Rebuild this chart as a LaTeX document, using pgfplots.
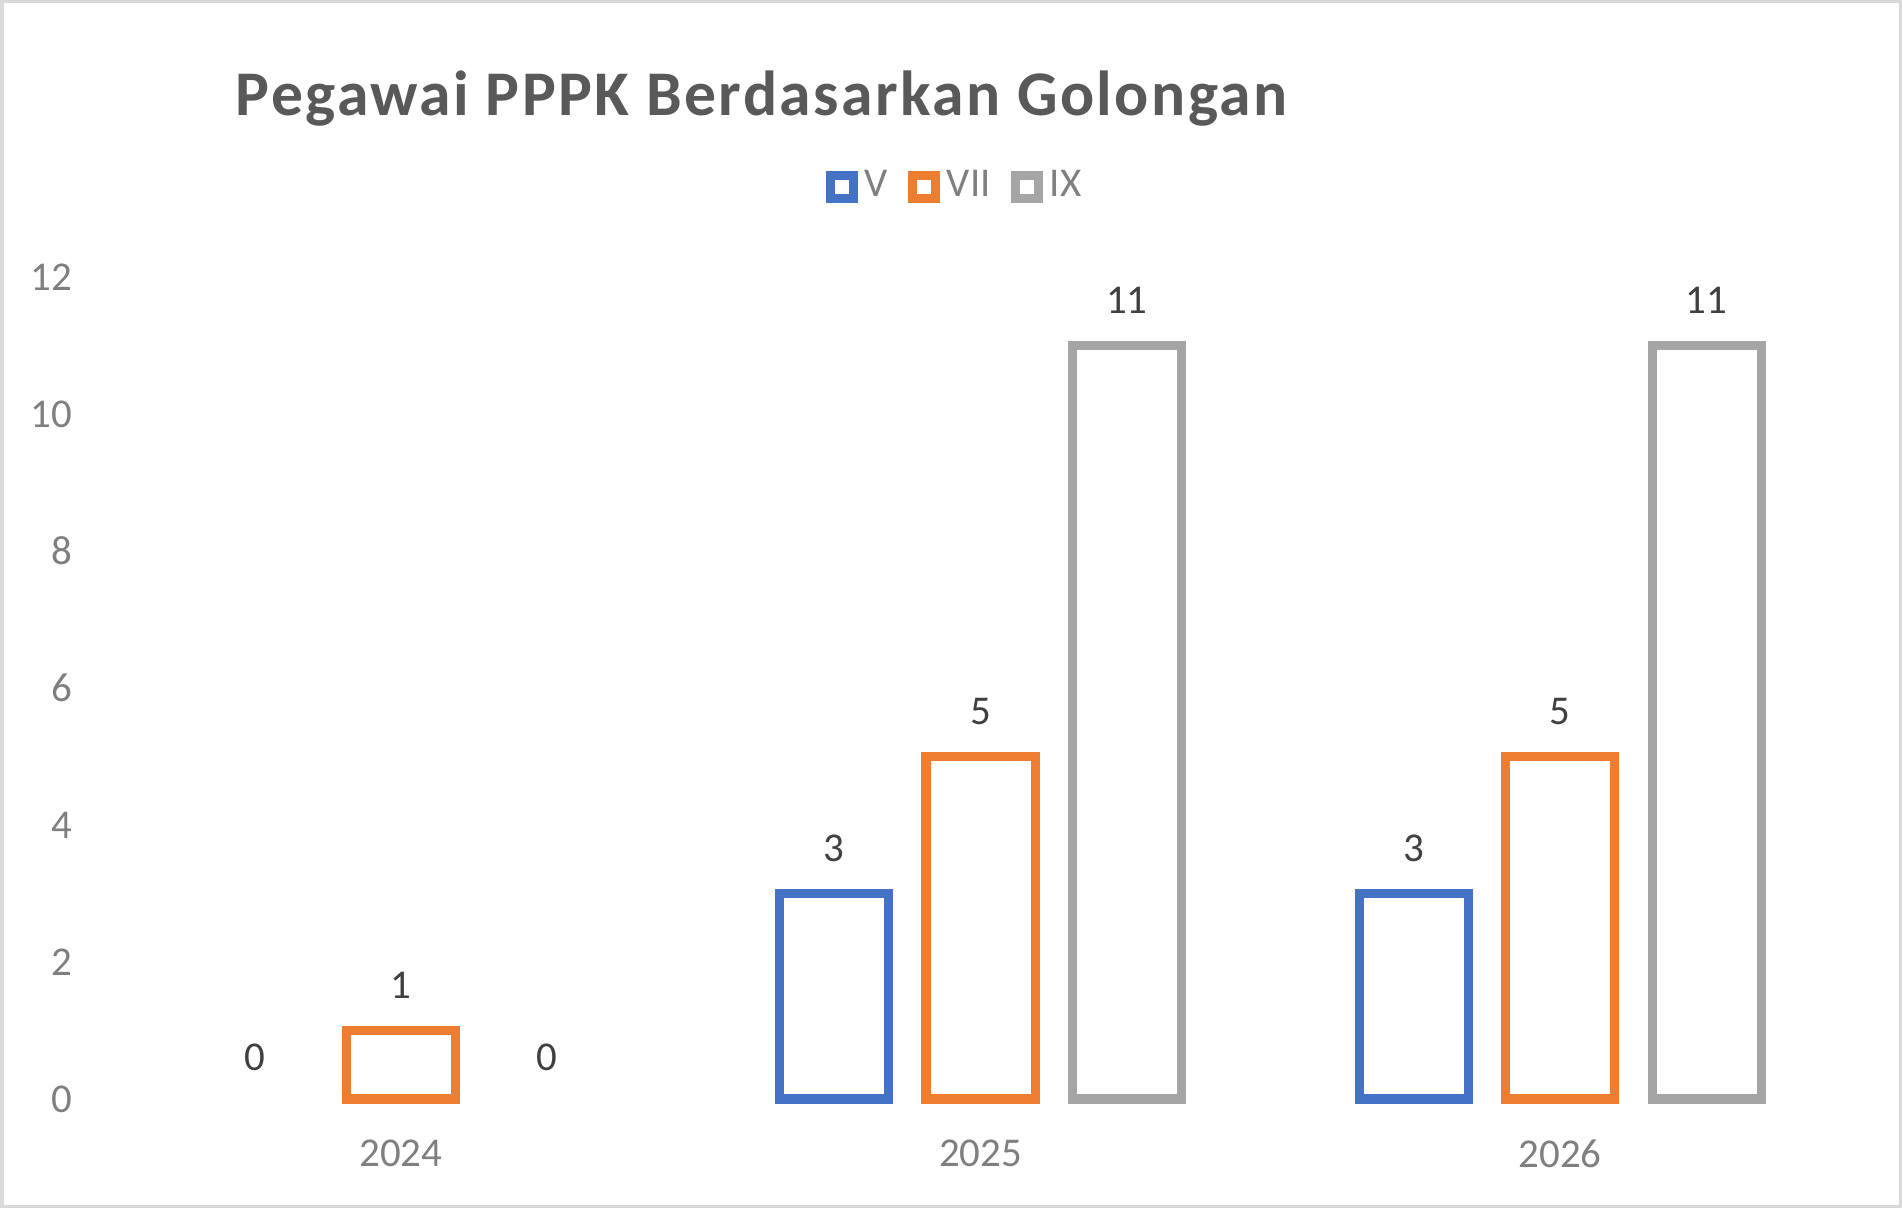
\documentclass[border=0pt]{standalone}
\usepackage{fontspec}
\setmainfont{Carlito}
\usepackage{pgfplots}
\pgfplotsset{compat=1.18}
\definecolor{cV}{HTML}{4472C4}
\definecolor{cVII}{HTML}{ED7D31}
\definecolor{cIX}{HTML}{A5A5A5}
\definecolor{ticktext}{HTML}{7F7F7F}
\definecolor{labtext}{HTML}{404040}
\definecolor{titletext}{HTML}{595959}
\definecolor{framec}{HTML}{D9D9D9}
\pgfplotsset{boxlegend/.style={legend image code/.code={\draw[##1, line width=2pt, fill=white] (0pt,-2.5pt) rectangle (5pt,2.5pt);}}}
\begin{document}
\begin{tikzpicture}
\begin{axis}[
  at={(24.42pt,23.98pt)}, anchor=south west,
  width=382.6pt, height=180.8pt, scale only axis,
  ybar, bar width=24pt,
  xmin=-0.5, xmax=2.5, ymin=0, ymax=12,
  xtick={0,1,2}, xticklabels={2024,2025,2026},
  ytick={0,2,...,12},
  axis line style={draw=none},
  major tick length=0pt, tick style={draw=none},
  /pgf/number format/assume math mode=true,
  ticklabel style={font=\fontsize{9}{11}\selectfont, text=ticktext},
  yticklabel style={xshift=-5.0pt},
  xticklabel style={yshift=-5.5pt},
  title={Pegawai PPPK Berdasarkan Golongan},
  title style={at={(0.0713,1.163)}, anchor=base west, inner sep=0pt,
    font=\fontsize{14}{16}\selectfont\bfseries\addfontfeature{LetterSpace=3.8}, text=titletext},
  legend style={at={(0.4865,1.1095)}, anchor=center, draw=none, fill=none,
    legend columns=-1, font=\fontsize{9}{11}\selectfont, text=ticktext,
    nodes={inner sep=1.5pt},
    /tikz/every even column/.append style={column sep=3pt}},
  nodes near coords,
  every node near coord/.append style={font=\fontsize{9}{11}\selectfont,
    text=labtext, anchor=south, inner sep=0pt, yshift=6pt},
  clip=false,
]
\addplot[draw=cV, fill=white, line width=2pt, bar shift=-32.2pt, boxlegend]
  coordinates {(1,3) (2,3)};
\addlegendentry{V}
\addplot[draw=cVII, fill=white, line width=2pt, bar shift=0pt, boxlegend]
  coordinates {(0,1) (1,5) (2,5)};
\addlegendentry{VII}
\addplot[draw=cIX, fill=white, line width=2pt, bar shift=32.2pt, boxlegend]
  coordinates {(1,11) (2,11)};
\addlegendentry{IX}
\addplot[draw=none, fill=none, bar shift=-32.2pt, forget plot]
  coordinates {(0,0)};
\addplot[draw=none, fill=none, bar shift=32.2pt, forget plot]
  coordinates {(0,0)};
\end{axis}
\draw[framec, line width=0.77pt] (0.385pt,0.385pt) rectangle (418.055pt,265.375pt);
\pgfresetboundingbox
\path[use as bounding box] (0,0) rectangle (418.44pt,265.76pt);
\end{tikzpicture}
\end{document}
